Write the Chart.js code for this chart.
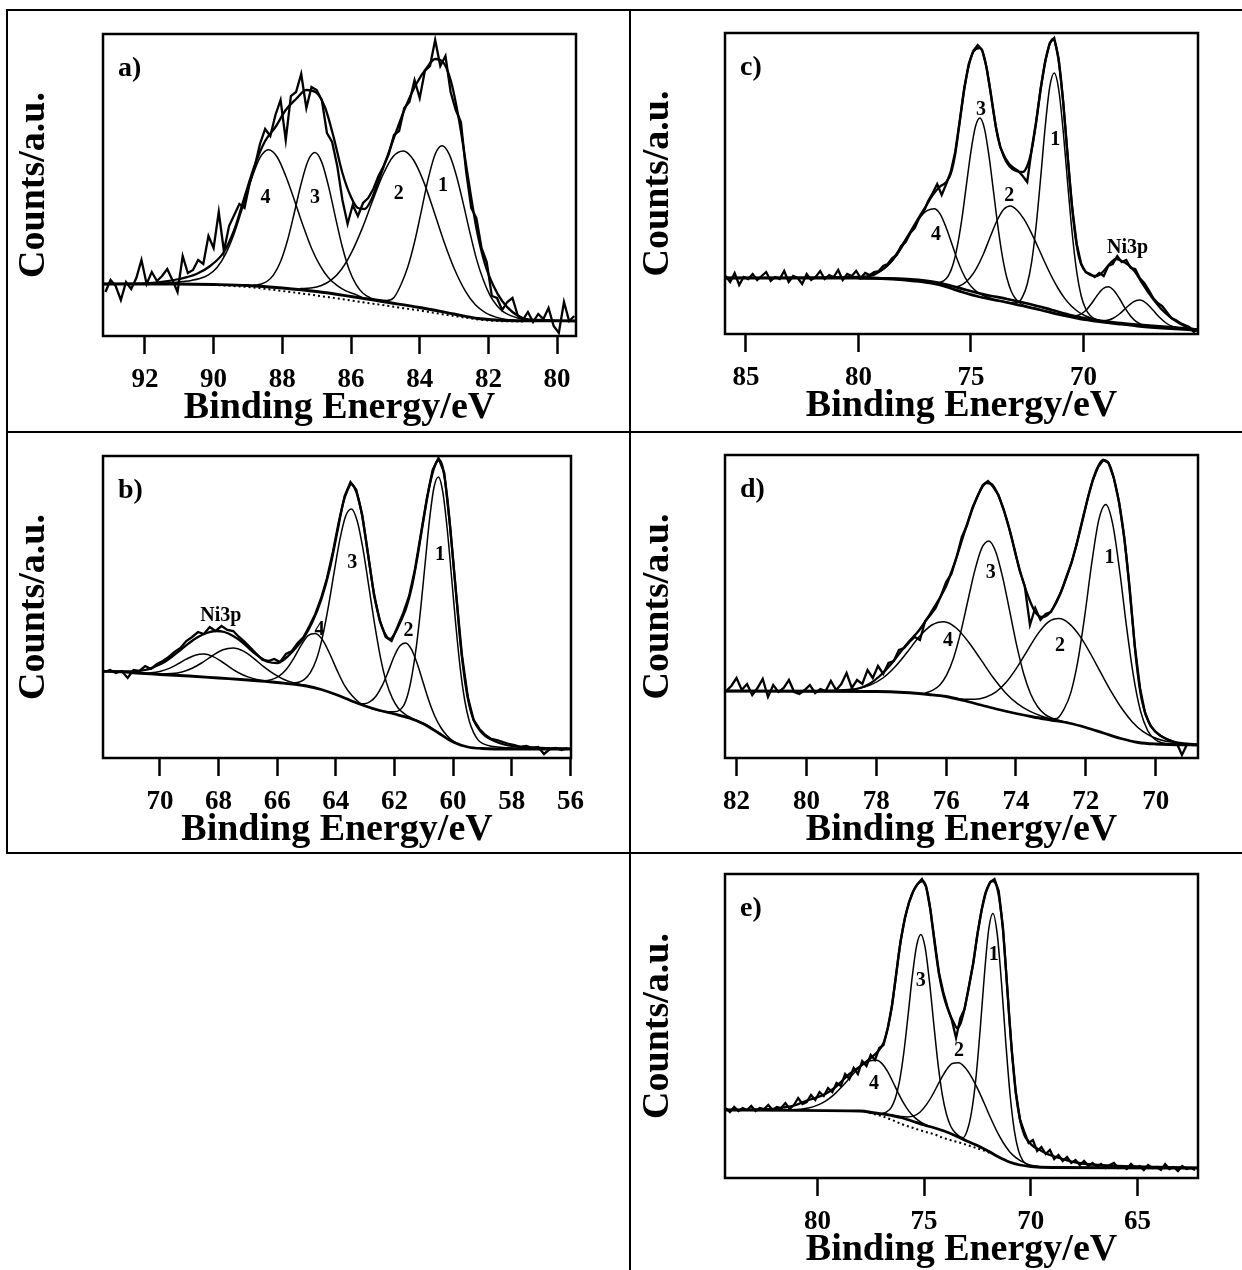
<!DOCTYPE html>
<html><head><meta charset="utf-8">
<script src="https://cdn.jsdelivr.net/npm/chart.js@4.4.1/dist/chart.umd.min.js"></script>
<style>
html,body{margin:0;padding:0;background:#fff;}
body{width:1242px;height:1270px;position:relative;overflow:hidden;}
canvas{position:absolute;}
.ln{position:absolute;background:#000;}
</style></head><body>
<canvas id="pa" width="623" height="422" style="left:7px;top:10px"></canvas>
<canvas id="pc" width="612" height="422" style="left:630px;top:10px"></canvas>
<canvas id="pb" width="623" height="421" style="left:7px;top:432px"></canvas>
<canvas id="pd" width="612" height="421" style="left:630px;top:432px"></canvas>
<canvas id="pe" width="612" height="417" style="left:630px;top:853px"></canvas>
<div class="ln" style="left:6px;top:9px;width:1236px;height:2px"></div>
<div class="ln" style="left:6px;top:9px;width:2px;height:845px"></div>
<div class="ln" style="left:629px;top:9px;width:2px;height:1261px"></div>
<div class="ln" style="left:6px;top:431px;width:1236px;height:2px"></div>
<div class="ln" style="left:6px;top:852px;width:1236px;height:2px"></div>
<script>
// ---------------- Panel a ----------------
const aTicks = [92, 90, 88, 86, 84, 82, 80];
const aRawStart = 93.15, aRawStep = 0.15;
const aRaw = [44,56,50,36,54,47,58,76,52,64,55,60,67,56,44,80,63,66,76,72,100,88,124,85,110,121,132,128,153,170,192,207,200,221,236,196,240,244,262,228,249,246,236,203,194,170,136,112,131,120,133,138,147,160,170,182,201,205,228,234,256,238,265,270,296,270,280,244,226,214,165,128,118,88,74,40,38,26,34,38,21,16,24,14,22,17,28,10,3,34,15,20];
const aEnv = [[93.3,52],[92,52.5],[91.5,54],[91,57],[90.5,62],[90.1,70],[89.7,84],[89.4,106],[89.1,139],[88.8,171],[88.5,195],[88.2,209],[87.9,226],[87.6,237],[87.3,246],[87.0,243],[86.75,228],[86.5,198],[86.25,163],[86.0,139],[85.8,128],[85.6,127],[85.4,137],[85.2,155],[85.0,174],[84.7,203],[84.4,230],[84.1,252],[83.8,268],[83.55,277],[83.35,275],[83.1,256],[82.85,215],[82.6,160],[82.35,108],[82.1,72],[81.85,50],[81.6,35],[81.3,24],[81.0,18],[80.5,16],[79.3,15]];
const aBg = [[93.3,52],[91,52],[90,51.5],[89,50.5],[88,48],[87,44.5],[86,39.5],[85,34],[84,28.5],[83,22],[82.3,17.5],[81.5,15.5],[79.3,15]];
const aDot = [[90,51],[89,49],[88,45],[87,40.5],[86,35.5],[85,30.5],[84,25.5],[83,20],[82,15.5],[81,14.5]];
const aC1 = [[86.0,39.5],[85.35,37],[84.95,35.5],[84.75,38.5],[84.55,51],[84.35,68.7],[84.15,94],[83.95,125.4],[83.75,157.6],[83.55,181.8],[83.35,190.2],[83.15,182.3],[82.95,162.5],[82.75,135.2],[82.55,105.2],[82.35,77.4],[82.15,56.2],[81.95,40.3],[81.75,30.2],[81.55,23.8],[81.35,20.4],[81.0,16.7],[80.5,15.2]];
const aC2 = [[87.48,47.4],[87.18,48],[86.88,50.2],[86.58,55.8],[86.28,66.5],[85.98,83.8],[85.68,107.1],[85.38,134.4],[85.08,160.5],[84.78,179.3],[84.48,185.1],[84.18,176],[83.88,153.9],[83.58,124.1],[83.28,93.1],[82.98,66.2],[82.68,45.4],[82.38,31.2],[82.08,23.2],[81.78,18.9],[81.48,16.6],[81.0,15.2]];
const aC3 = [[88.85,50.7],[88.65,51.7],[88.45,54.5],[88.25,61.4],[88.05,74.5],[87.85,95.5],[87.65,123.3],[87.45,152.5],[87.25,175.3],[87.05,183.4],[86.85,173.6],[86.65,149.1],[86.45,118.2],[86.25,88.7],[86.05,66],[85.85,51.4],[85.65,42.8],[85.45,38.4],[85.25,36]];
const aC4 = [[91.6,52.5],[91.15,53.5],[90.9,54.5],[90.65,55.6],[90.4,57.5],[90.15,61.2],[89.9,68.5],[89.65,82.1],[89.4,102.5],[89.15,129],[88.9,156.6],[88.65,178.3],[88.4,186.2],[88.15,179],[87.9,160],[87.65,136],[87.4,110.8],[87.15,87.8],[86.9,70.4],[86.65,58],[86.4,50.3],[86.15,45.1],[85.9,42],[85.6,37]];
const aLabels = [['4',88.49,138],['3',87.05,138],['2',84.61,142],['1',83.32,150]];

// ---------------- Panel b ----------------
const bTicks = [70, 68, 66, 64, 62, 60, 58, 56];
const bRawStart = 71.9, bRawStep = 0.2;
const bRaw = [86,88,85,87,80,88,87,92,89,94,97,101,106,110,117,121,126,124,131,127,132,128,127,121,116,110,104,98,97,99,96,104,107,115,121,132,144,160,180,206,236,262,276,268,243,204,163,137,121,117,131,145,162,189,224,259,288,300,285,231,165,103,61,38,29,23,19,18,16,14,13,11,12,10,11,4,9,10,8,10];
const bEnv = [[72.1,87],[71.5,86.5],[71.0,86.5],[70.5,88],[70.2,91],[69.9,95],[69.6,101],[69.3,108],[69.0,115],[68.7,121],[68.4,125],[68.1,127],[67.8,126],[67.5,122],[67.2,116],[66.9,108],[66.6,101],[66.3,96],[66.0,95],[65.7,100],[65.4,109],[65.1,120],[64.8,136],[64.5,158],[64.2,190],[63.95,226],[63.75,255],[63.6,268],[63.47,274],[63.3,266],[63.1,242],[62.9,203],[62.7,165],[62.5,138],[62.3,123],[62.15,119],[62.0,124],[61.8,136],[61.6,150],[61.4,172],[61.2,204],[61.0,240],[60.8,273],[60.6,294],[60.48,298],[60.35,290],[60.2,260],[60.05,214],[59.9,165],[59.75,115],[59.6,78],[59.45,53],[59.3,38],[59.1,28],[58.9,22],[58.6,17],[58.2,13],[57.6,11],[57.0,10],[56.4,9.5],[55.8,9]];
const bBg = [[72.1,87],[71,85.5],[70,83.5],[69,82],[68,80],[67,78],[66,75.5],[65,72],[64.5,68.5],[64,63.5],[63.5,57.5],[63,52],[62.5,47.5],[62,44],[61.5,40],[61,34],[60.5,25],[60,16],[59.5,11],[59,9.5],[58,9],[55.8,9]];
const bNiA = [[70.9,84.8],[70.6,85],[70.3,85.3],[70.0,86.6],[69.7,89.4],[69.4,93.8],[69.1,98.8],[68.8,102.8],[68.5,104],[68.2,101.6],[67.9,96.5],[67.6,90.4],[67.3,85],[67.0,81.1],[66.7,78.6],[66.4,77.1],[66.1,76]];
const bNiB = [[70.6,84.5],[70.3,84.1],[69.95,83.9],[69.6,84.4],[69.25,86.1],[68.9,89.8],[68.55,95.5],[68.2,102.5],[67.85,108.2],[67.5,110],[67.15,106.8],[66.8,99.7],[66.45,91.1],[66.1,83.8],[65.75,78.3],[65.4,74.9],[65.05,72.7],[64.7,70]];
const bC4 = [[66.95,77.9],[66.7,77.5],[66.45,77.2],[66.2,78.4],[65.95,81.7],[65.7,88.3],[65.45,98.9],[65.2,111.9],[64.95,122.4],[64.7,124.4],[64.45,117.9],[64.2,103.8],[63.95,87.1],[63.7,72.4],[63.45,62.4],[63.2,55.5],[62.95,51.8],[62.7,49.2]];
const bC3 = [[65.6,73.8],[65.47,75],[65.27,75.8],[65.07,78.6],[64.87,85.4],[64.67,97.9],[64.47,119.2],[64.27,148.9],[64.07,183.6],[63.87,217.3],[63.67,241.6],[63.47,249.1],[63.27,237],[63.07,208.3],[62.87,170.7],[62.67,132.6],[62.47,99.4],[62.27,75.1],[62.07,59.6],[61.87,49.8],[61.67,44.4],[61.47,40.8],[61.0,34.5],[60.5,25.5]];
const bC2 = [[63.6,58.7],[63.22,54.6],[63.02,54.3],[62.82,56.6],[62.62,62.3],[62.42,72.3],[62.22,85.9],[62.02,101],[61.82,111.9],[61.62,115.1],[61.42,108.7],[61.22,94],[61.02,75.2],[60.82,56.7],[60.62,41.5],[60.42,30.5],[60.22,22.8],[60.02,17.4],[59.7,12]];
const bC1 = [[62.8,49.6],[62.3,46.3],[62.0,46.2],[61.7,51.8],[61.55,63],[61.4,83.2],[61.25,112.3],[61.1,151.1],[60.95,196],[60.8,239.6],[60.65,271],[60.5,281],[60.35,265.6],[60.2,228.5],[60.05,179.7],[59.9,130.3],[59.75,87.9],[59.6,57],[59.45,37],[59.3,25.4],[59.15,18.1],[59.0,14.6],[58.7,11.7],[58.3,10.5],[57.5,9.5]];
const bLabels = [['Ni3p',67.92,142],['4',64.56,128],['3',63.44,195],['2',61.52,127],['1',60.45,203]];

// ---------------- Panel c ----------------
const cTicks = [85, 80, 75, 70];
const cRawStart = 85.9, cRawStep = 0.2;
const cRaw = [58,52,61,49,57,55,60,54,58,62,53,57,55,63,52,58,56,50,60,54,57,63,55,59,57,64,54,60,58,63,56,61,59,62,63,68,70,76,79,88,92,101,106,116,122,133,141,150,139,150,162,182,213,246,270,283,289,284,266,238,208,187,177,170,166,163,158,152,185,213,246,273,291,296,275,232,177,126,90,70,62,60,57,61,58,68,70,78,72,74,66,65,56,51,44,36,31,28,22,16,14,11,9,7,2,5];
const cEnv = [[86.1,56],[80,57],[79.4,58.5],[79.0,63.5],[78.7,69],[78.4,77],[78.0,91],[77.7,102],[77.33,116],[77.0,128],[76.7,139],[76.4,147],[76.1,152],[75.9,160],[75.7,180],[75.5,212],[75.3,244],[75.1,268],[74.9,282],[74.6,286],[74.4,276],[74.2,252],[74.0,222],[73.8,196],[73.55,178],[73.3,168],[73.0,163],[72.7,162],[72.5,168],[72.3,184],[72.1,212],[71.9,245],[71.7,272],[71.5,290],[71.35,295],[71.2,286],[71.0,255],[70.8,205],[70.6,150],[70.4,105],[70.2,77],[70.0,65],[69.7,59],[69.4,58],[69.1,63],[68.8,71],[68.55,75],[68.3,73],[68.0,69],[67.7,62],[67.4,51],[67.1,41],[66.8,32],[66.5,24],[66.2,18],[65.9,13],[65.6,9],[65.3,6],[64.8,4]];
const cBg = [[86.1,56],[80,56],[78.5,55],[77.5,53],[76.7,50.5],[76,46.5],[75.4,42],[74.6,37],[73.7,33],[72.8,28.5],[71.9,24],[71,19],[70.2,15.5],[69.3,12.5],[68.4,10],[67.6,8],[66.5,6],[64.8,3.5]];
const cBg2 = [[80,56],[78,55],[76.8,52.5],[76,49],[75.2,44],[74.3,39],[73.4,35],[72.4,30],[71.4,24],[70.5,18.5],[69.5,14],[68.5,11],[67.5,9],[66,6.5],[64.8,4]];
const cC4 = [[80.3,56.1],[79.93,56.6],[79.63,57.8],[79.33,59.5],[79.03,62.6],[78.73,67.5],[78.43,74.7],[78.13,84.1],[77.83,95.4],[77.53,106.7],[77.23,117.9],[76.93,123.6],[76.63,125.3],[76.38,120.3],[76.13,108],[75.88,92.3],[75.63,75.8],[75.38,62],[75.13,51.6],[74.88,45],[74.63,40.7],[74.38,37.8],[74.0,35]];
const cC3 = [[76.6,50.3],[76.4,51.4],[76.2,53.4],[76.0,58.3],[75.8,69.2],[75.6,88.3],[75.4,115.6],[75.2,149.4],[75.0,182.7],[74.8,207.5],[74.6,216],[74.4,205.3],[74.2,178.3],[74.0,143],[73.8,107.1],[73.6,77.2],[73.4,55.7],[73.2,42.3],[73.0,34.7],[72.8,30.5],[72.5,27.3]];
const cC2 = [[76.3,48.8],[75.95,47.5],[75.65,47.2],[75.35,49.8],[75.05,55.9],[74.75,65.9],[74.45,79.8],[74.15,96.8],[73.85,113],[73.55,124.5],[73.25,128],[72.95,123.8],[72.65,115.1],[72.35,102.7],[72.05,88.3],[71.75,73.3],[71.45,59],[71.15,46.5],[70.85,36.1],[70.55,28.2],[70.25,22.5],[69.95,18.5],[69.6,15.5],[69.2,13],[68.6,11]];
const cC1 = [[73.6,32.8],[73.1,31],[72.9,31.5],[72.7,37.6],[72.5,49.8],[72.3,72.4],[72.1,109],[71.9,156.7],[71.7,207.3],[71.5,246.8],[71.3,261],[71.1,244.5],[70.9,202.8],[70.7,150.1],[70.5,100.5],[70.3,62.2],[70.1,38],[69.9,25],[69.7,18.5],[69.5,15.2],[69.1,12.4],[68.5,10.4],[67.5,8]];
const cNiA = [[70.9,18.4],[70.65,17.8],[70.4,17.9],[70.15,19.5],[69.9,23.5],[69.65,30.2],[69.4,38.3],[69.15,45],[68.9,47.3],[68.65,43.6],[68.4,35.5],[68.15,25.9],[67.9,17.8],[67.65,12.3],[67.4,9.2],[67.15,7.7],[66.9,6.8]];
const cNiB = [[69.6,13.5],[69.3,13.1],[69.0,13.4],[68.7,15.5],[68.4,20],[68.1,26.2],[67.8,31.9],[67.5,33.9],[67.2,30.7],[66.9,23.7],[66.6,16.2],[66.3,10.5],[66.0,7.2],[65.7,5.6],[65.3,4.5]];
const cLabels = [['3',74.55,224],['1',71.25,194],['2',73.3,138],['4',76.55,99],['Ni3p',68.04,86]];

// ---------------- Panel d ----------------
const dTicks = [82, 80, 78, 76, 74, 72, 70];
const dRawStart = 82.3, dRawStep = 0.15;
const dRaw = [67,72,80,68,74,63,70,79,61,73,66,70,78,66,64,68,73,65,69,67,77,68,74,85,70,78,74,88,80,92,84,95,97,108,110,116,121,118,137,143,150,162,176,184,201,221,233,250,262,273,277,271,263,248,230,210,188,172,133,150,138,144,146,156,167,182,196,216,238,259,278,291,298,295,280,256,220,172,112,70,44,32,26,22,19,17,15,3,14,13,13];
const dEnv = [[82.5,67],[80,67],[78.8,68],[78.46,70],[78.2,74],[77.9,82],[77.6,93],[77.35,104],[77.1,115],[76.79,127],[76.55,139],[76.34,151],[76.15,162],[76.0,172],[75.85,186],[75.67,204],[75.5,223],[75.3,244],[75.11,261],[74.95,272],[74.85,275],[74.7,274],[74.55,266],[74.33,246],[74.15,224],[74.0,202],[73.8,177],[73.6,157],[73.45,146],[73.27,141],[73.1,143],[72.9,152],[72.7,167],[72.5,186],[72.3,209],[72.1,237],[71.9,266],[71.71,287],[71.51,298],[71.35,295],[71.2,280],[71.0,245],[70.85,205],[70.7,150],[70.55,95],[70.4,58],[70.2,36],[70.0,26],[69.75,20],[69.5,16.5],[69.2,14.5],[68.6,13]];
const dBg = [[82.5,67],[78,66.5],[77.2,65.5],[76.5,63.5],[76,61.5],[75.5,57.5],[75,53],[74.5,48.5],[74,44.5],[73.5,41],[73,38],[72.5,35],[72,30.5],[71.5,25],[71,19.5],[70.5,15.5],[70,14],[68.6,13]];
const dC4 = [[79.6,67],[79.21,67.3],[78.86,68],[78.51,69.5],[78.16,73.1],[77.81,80],[77.46,91.3],[77.11,106],[76.76,121.7],[76.41,133],[76.06,136.3],[75.71,130],[75.36,116],[75.01,98.6],[74.66,80.7],[74.31,65.6],[73.96,54.3],[73.61,46.8],[73.26,41.8],[72.91,38.3],[72.5,35.5]];
const dC3 = [[76.6,64.8],[76.38,67.8],[76.18,73.1],[75.98,83.4],[75.78,100.8],[75.58,126.1],[75.38,157],[75.18,187.4],[74.98,209.9],[74.78,217.1],[74.58,206.3],[74.38,180.4],[74.18,146.8],[73.98,112.6],[73.78,84.3],[73.58,64],[73.38,51.3],[73.18,43.9],[72.98,40],[72.7,36.8]];
const dC2 = [[75.8,60],[75.47,58.7],[75.17,58.7],[74.87,60.8],[74.57,66.1],[74.27,76.3],[73.97,90.7],[73.67,107.7],[73.37,124.4],[73.07,136.2],[72.77,139.4],[72.47,134.2],[72.17,121.9],[71.87,104.5],[71.57,85.1],[71.27,66.1],[70.97,49.5],[70.67,36.1],[70.37,26.6],[70.07,20.7],[69.77,17.2],[69.4,15],[69.0,13.7]];
const dC1 = [[73.4,40.5],[73.03,39.2],[72.83,39.5],[72.63,48.5],[72.43,65.4],[72.23,96.8],[72.03,142.7],[71.83,195.3],[71.63,238.1],[71.43,253.5],[71.23,233.7],[71.03,186.5],[70.83,129.8],[70.63,80.4],[70.43,46.2],[70.23,27.4],[70.03,18.7],[69.83,15.2],[69.5,13.8],[69.0,13.3]];
const dLabels = [['3',74.72,185],['1',71.32,200],['2',72.74,112],['4',75.95,117]];

// ---------------- Panel e ----------------
const eTicks = [80, 75, 70, 65];
const eRawStart = 84.3, eRawStep = 0.2;
const eRaw = [70,66,71,67,70,68,72,67,70,69,73,68,71,70,75,69,73,80,74,76,83,78,86,82,90,86,95,92,104,99,110,104,117,112,123,118,130,133,150,173,205,237,260,276,287,294,299,291,268,236,205,186,171,158,140,160,169,191,214,244,268,286,296,299,287,250,190,130,86,58,46,35,38,27,31,24,28,19,23,17,21,15,18,13,17,12,15,11,14,10,13,15,10,12,9,14,10,12,8,13,10,11,8,14,9,11,7,12,9,10,8];
const eEnv = [[84.5,68],[82,69],[81.46,71],[81,73],[80.55,77],[80.1,80],[79.63,84],[79.2,90],[78.9,96],[78.5,104],[78.17,109],[77.8,115],[77.44,121],[77.15,127],[76.9,135],[76.7,150],[76.52,170],[76.34,198],[76.16,228],[75.97,252],[75.79,269],[75.6,282],[75.43,290],[75.25,295],[75.06,297],[74.9,291],[74.75,275],[74.6,251],[74.45,226],[74.3,204],[74.15,188],[74.0,176],[73.8,164],[73.6,155],[73.45,150],[73.3,154],[73.15,165],[73.0,180],[72.85,197],[72.68,217],[72.5,243],[72.32,266],[72.15,283],[71.95,294],[71.77,297],[71.6,292],[71.45,276],[71.3,248],[71.15,205],[71.0,158],[70.85,118],[70.7,85],[70.5,58],[70.3,43],[70.12,37],[69.9,32],[69.57,28],[69.1,23],[68.66,20],[68.2,17],[67.74,15],[66.8,13],[65.9,12],[64,11],[62,10]];
const eBg = [[84.5,68],[78,67],[77.3,65],[76.5,62.5],[76,60],[75.5,56.5],[75,53],[74.5,50],[74,46.5],[73.5,42],[73,37],[72.5,32.5],[72,27],[71.5,21],[71,16],[70.5,13],[70,11.5],[69,10.5],[62,10]];
const eDot = [[77.8,66.5],[77,62],[76.5,58],[76,53.5],[75.5,50],[75,46.5],[74.5,43.5],[74.15,40.5],[73.7,37.5],[73.2,34.5],[72.7,31],[72.2,27.5],[71.8,24]];
const eC4 = [[81.6,68],[81.22,68.2],[80.82,68.8],[80.42,70],[80.02,72.6],[79.62,76.9],[79.22,83.4],[78.82,92],[78.42,101.6],[78.02,110.7],[77.62,116.7],[77.22,117.7],[76.97,114.4],[76.72,106.9],[76.47,96.5],[76.22,85.4],[75.97,75.4],[75.72,67.1],[75.47,61.1],[75.22,56.8],[74.97,53.8],[74.6,50.5]];
const eC3 = [[77.0,64.3],[76.75,66.2],[76.55,70.2],[76.35,79.5],[76.15,96.9],[75.95,125.1],[75.75,162.6],[75.55,201.9],[75.35,232.2],[75.15,243.6],[74.95,230.6],[74.75,197.2],[74.55,155.2],[74.35,114.9],[74.15,83.9],[73.95,63.8],[73.75,51.8],[73.55,45.4],[73.3,41.2],[73.0,37.3]];
const eC2 = [[77.3,65],[76.7,63.5],[76.38,62.3],[76.08,61.5],[75.78,61.1],[75.48,62.1],[75.18,66],[74.88,73.6],[74.58,84],[74.28,96.2],[73.98,107.2],[73.68,114.5],[73.38,115.2],[73.08,110.5],[72.78,101.2],[72.48,88.8],[72.18,74.7],[71.88,60],[71.58,46.4],[71.28,35],[70.98,26.1],[70.68,20.1],[70.38,16.1],[70.08,13.4],[69.5,11]];
const eC1 = [[73.7,43.6],[73.37,41.5],[73.17,40.3],[72.97,47.9],[72.77,66.6],[72.57,99.6],[72.37,148.4],[72.17,203.5],[71.97,248.5],[71.77,264.6],[71.57,243.8],[71.37,194.9],[71.17,135.8],[70.97,83.6],[70.77,47.7],[70.57,27],[70.37,17.3],[70.17,13.4],[69.8,11.6],[69.3,11],[68.5,10.5],[67.5,10.3]];
const eLabels = [['3',75.15,197],['1',71.73,223],['2',73.36,127],['4',77.35,94]];

// ---------------- drawing ----------------
const FONT = 'Liberation Serif';
const pts = arr => arr.map(p => ({x: p[0], y: p[1]}));
const rawPts = (e0, de, vals) => vals.map((v, i) => ({x: +(e0 - i * de).toFixed(3), y: v}));

function makePanel(id, p) {
  const cv = document.getElementById(id);
  const W = cv.width, H = cv.height, A = p.area;
  const ds = [];
  const add = (data, extra) => ds.push(Object.assign({data, borderColor: '#000', pointRadius: 0, fill: false, cubicInterpolationMode: 'monotone', borderWidth: 1.5}, extra));
  p.comps.forEach(c => add(pts(c), {borderWidth: 1.5}));
  if (p.dot) add(pts(p.dot), {borderWidth: 2, borderDash: [2, 3]});
  p.bgs.forEach(b => add(pts(b), {borderWidth: 2.8}));
  add(pts(p.env), {borderWidth: 2.3});
  add(rawPts(p.r0, p.rs, p.raw), {borderWidth: 2.3, cubicInterpolationMode: 'default', tension: 0});
  const titleMid = A[3] + 85 - 0.3375 * 38;
  const xPadB = H - 19 - titleMid;
  new Chart(cv, {
    type: 'line',
    data: {datasets: ds},
    options: {
      responsive: false, animation: false, devicePixelRatio: 1,
      layout: {autoPadding: false, padding: {left: 0, top: A[1], right: W - A[2], bottom: 0}},
      plugins: {legend: {display: false}, tooltip: {enabled: false}},
      scales: {
        x: {
          type: 'linear', reverse: true, min: p.xMin, max: p.xMax,
          afterBuildTicks: s => { s.ticks = p.ticks.map(v => ({value: v})); },
          afterFit: s => { s.height = H - A[3]; },
          ticks: {color: '#000', font: {family: FONT, size: 27, weight: 'bold', lineHeight: 1}, padding: 13, maxRotation: 0, minRotation: 0, autoSkip: false},
          grid: {display: true, drawOnChartArea: false, drawTicks: true, tickLength: 18, tickWidth: 2.5, tickColor: '#000'},
          border: {display: false},
          title: {display: true, text: 'Binding Energy/eV', color: '#000', font: {family: FONT, size: 38, weight: 'bold', lineHeight: 1}, padding: {top: 0, bottom: xPadB}}
        },
        y: {
          min: 0, max: A[3] - A[1],
          afterFit: s => { s.width = A[0]; },
          ticks: {display: false}, grid: {display: false}, border: {display: false},
          title: {display: true, text: 'Counts/a.u.', color: '#000', font: {family: FONT, size: 38, weight: 'bold', lineHeight: 1}, padding: {top: p.yT - 19, bottom: 0}}
        }
      }
    },
    plugins: [{
      id: 'frameAndText',
      afterDatasetsDraw(chart) {
        const ctx = chart.ctx, a = chart.chartArea;
        ctx.save();
        ctx.strokeStyle = '#000'; ctx.lineWidth = 2.5;
        ctx.strokeRect(a.left, a.top, a.right - a.left, a.bottom - a.top);
        ctx.fillStyle = '#000';
        ctx.font = 'bold 28px "' + FONT + '"';
        ctx.textAlign = 'left'; ctx.textBaseline = 'alphabetic';
        ctx.fillText(p.name, a.left + 15, a.top + 42);
        ctx.font = 'bold 20px "' + FONT + '"';
        ctx.textAlign = 'center'; ctx.textBaseline = 'middle';
        p.labels.forEach(l => ctx.fillText(l[0], chart.scales.x.getPixelForValue(l[1]), chart.scales.y.getPixelForValue(l[2])));
        ctx.restore();
      }
    }]
  });
}

makePanel('pa', {name: 'a)', area: [96, 24, 569, 326], yT: 27, xMin: 79.45, xMax: 93.22, ticks: aTicks,
  r0: aRawStart, rs: aRawStep, raw: aRaw, env: aEnv, bgs: [aBg], dot: aDot, comps: [aC1, aC2, aC3, aC4], labels: aLabels});
makePanel('pb', {name: 'b)', area: [96, 24, 564, 326], yT: 27, xMin: 55.98, xMax: 71.94, ticks: bTicks,
  r0: bRawStart, rs: bRawStep, raw: bRaw, env: bEnv, bgs: [bBg], comps: [bNiA, bNiB, bC4, bC3, bC2, bC1], labels: bLabels});
makePanel('pc', {name: 'c)', area: [95, 23, 568, 324], yT: 28, xMin: 64.91, xMax: 85.93, ticks: cTicks,
  r0: cRawStart, rs: cRawStep, raw: cRaw, env: cEnv, bgs: [cBg, cBg2], comps: [cC4, cC3, cC2, cC1, cNiA, cNiB], labels: cLabels});
makePanel('pd', {name: 'd)', area: [95, 23, 568, 326], yT: 28, xMin: 68.79, xMax: 82.33, ticks: dTicks,
  r0: dRawStart, rs: dRawStep, raw: dRaw, env: dEnv, bgs: [dBg], comps: [dC4, dC3, dC2, dC1], labels: dLabels});
makePanel('pe', {name: 'e)', area: [95, 21, 568, 325], yT: 28, xMin: 62.16, xMax: 84.33, ticks: eTicks,
  r0: eRawStart, rs: eRawStep, raw: eRaw, env: eEnv, bgs: [eBg], dot: eDot, comps: [eC4, eC3, eC2, eC1], labels: eLabels});
</script>
</body></html>
